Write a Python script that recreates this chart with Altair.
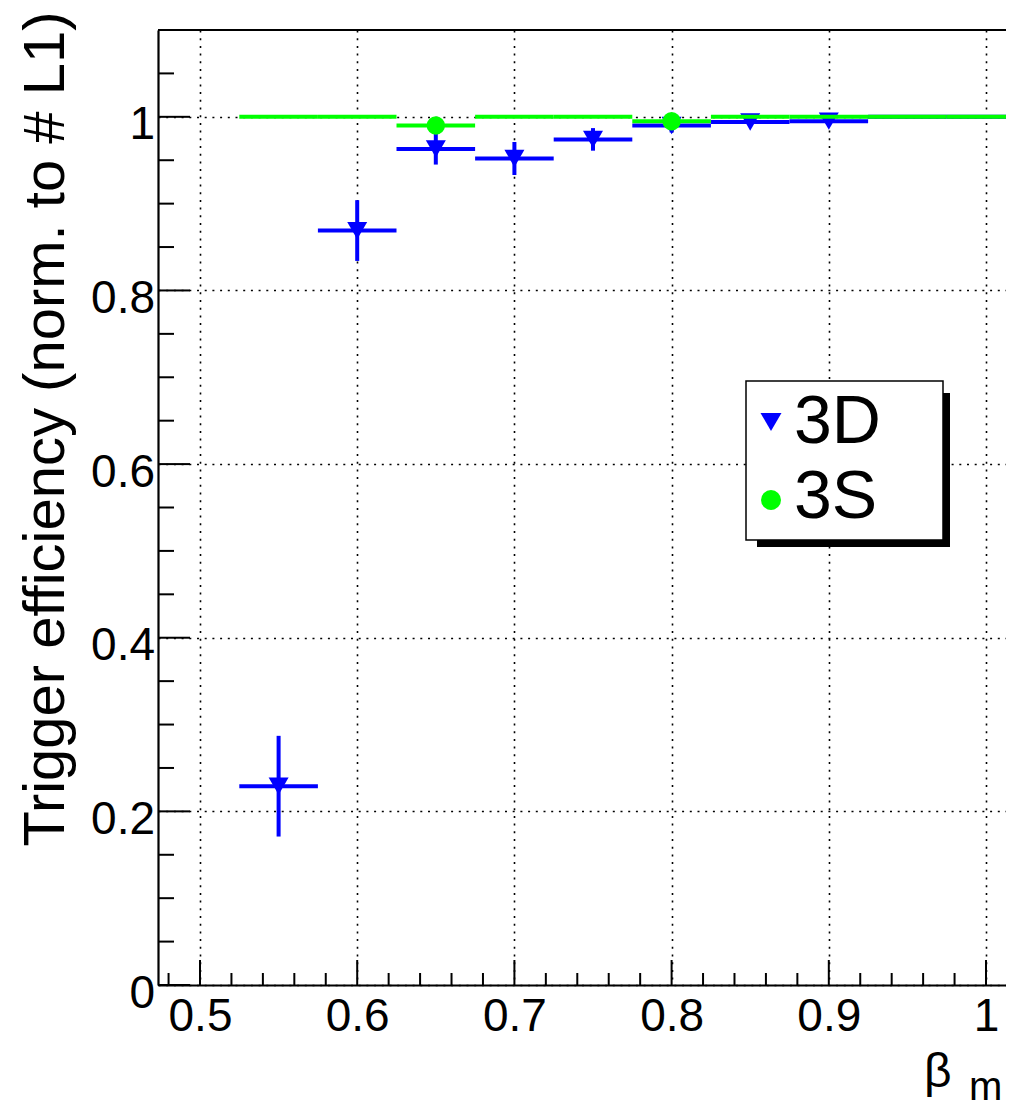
import altair as alt
import pandas as pd

# ---- data ----
bins = [0.55, 0.60, 0.65, 0.70, 0.75, 0.80, 0.85, 0.90, 0.95, 1.00]
bin_half = 0.025
eff_3d = [0.229, 0.869, 0.963, 0.952, 0.974, 0.990, 0.994, 0.995, 1.0, 1.0]
err_3d = [0.058, 0.035, 0.018, 0.019, 0.013, 0.008, 0.004, 0.004, 0.0, 0.0]
eff_3s = [1.0, 1.0, 0.990, 1.0, 1.0, 0.995, 1.0, 1.0, 1.0, 1.0]
err_3s = [0.0, 0.0, 0.005, 0.0, 0.0, 0.003, 0.0, 0.0, 0.0, 0.0]
series = ["3D", "3S"]

x_major = [0.5, 0.6, 0.7, 0.8, 0.9, 1.0]
x_minor = [0.48, 0.52, 0.54, 0.56, 0.58, 0.62, 0.64, 0.66, 0.68, 0.72, 0.74,
           0.76, 0.78, 0.82, 0.84, 0.86, 0.88, 0.92, 0.94, 0.96, 0.98]
y_major = [0, 0.2, 0.4, 0.6, 0.8, 1.0]
y_minor = [0.05, 0.1, 0.15, 0.25, 0.3, 0.35, 0.45, 0.5, 0.55, 0.65, 0.7, 0.75,
           0.85, 0.9, 0.95, 1.05]

y_title = "Trigger efficiency (norm. to # L1)"
x_title_main = "β"
x_title_sub = "m"

X_DOMAIN = [0.47328, 1.01272]
Y_DOMAIN = [0, 1.1]
W, H = 848, 955
FONT = "Liberation Sans"
BLUE = "#0000ff"
GREEN = "#00ff00"

xscale = alt.Scale(domain=X_DOMAIN, nice=False, zero=False)
yscale = alt.Scale(domain=Y_DOMAIN, nice=False, zero=False)

df3d = pd.DataFrame({"x": bins, "y": eff_3d, "err": err_3d})
df3s = pd.DataFrame({"x": bins, "y": eff_3s, "err": err_3s})

x_axis = alt.Axis(values=x_major, format="~g", grid=True, gridDash=[2, 5.7],
                  gridColor="#000000", gridWidth=1.6, ticks=False, tickSize=0,
                  domain=True, domainColor="#000000", domainWidth=2.2,
                  labelFont=FONT, labelFontSize=46, labelColor="#000000",
                  labelPadding=9, labelFlush=False, title=None)
y_axis = alt.Axis(values=y_major, format="~g", grid=True, gridDash=[2, 5.7],
                  gridColor="#000000", gridWidth=1.6, ticks=False, tickSize=0,
                  domain=True, domainColor="#000000", domainWidth=2.2,
                  labelFont=FONT, labelFontSize=46, labelColor="#000000",
                  labelPadding=3.5, labelOffset=22, labelBaseline="alphabetic",
                  labelFlush=False,
                  title=y_title, titleFont=FONT, titleFontSize=58,
                  titleFontWeight="normal", titleColor="#000000",
                  titleAngle=270, titleAlign="right", titleBaseline="alphabetic",
                  titleX=-95, titleY=-19)


def X(field):
    return alt.X(field, scale=xscale, axis=x_axis)


def Y(field):
    return alt.Y(field, scale=yscale, axis=y_axis)


def hbars(df, color):
    return alt.Chart(df).transform_calculate(
        lo=f"datum.x - {bin_half}", hi=f"datum.x + {bin_half}"
    ).mark_rule(color=color, strokeWidth=4, clip=True).encode(
        x=X("lo:Q"), x2="hi:Q", y=Y("y:Q"),
    )


def vbars(df, color):
    return alt.Chart(df).transform_filter("datum.err > 0").transform_calculate(
        ylo="datum.y - datum.err", yhi="datum.y + datum.err"
    ).mark_rule(color=color, strokeWidth=4, clip=True).encode(
        x=X("x:Q"), y=Y("ylo:Q"), y2="yhi:Q",
    )


def markers(df, color, shape, size):
    return alt.Chart(df).transform_filter("datum.y < 1").mark_point(
        shape=shape, filled=True, size=size, color=color, opacity=1, strokeWidth=0
    ).encode(x=X("x:Q"), y=Y("y:Q"))


def yticks(vals, length):
    return alt.Chart(pd.DataFrame({"v": vals})).mark_rule(
        color="#000000", strokeWidth=2
    ).encode(y=Y("v:Q"), x=alt.value(0), x2=alt.value(length))


def xticks(vals, length):
    return alt.Chart(pd.DataFrame({"v": vals})).mark_rule(
        color="#000000", strokeWidth=2
    ).encode(x=X("v:Q"), y=alt.value(H), y2=alt.value(H - length))


one = alt.Data(values=[{}])

top_frame = alt.Chart(one).mark_rule(color="#000000", strokeWidth=2.2).encode(
    x=alt.value(0), x2=alt.value(W), y=alt.value(0))

legend_shadow = alt.Chart(one).mark_rect(color="#000000").encode(
    x=alt.value(599), x2=alt.value(792), y=alt.value(363), y2=alt.value(517))
legend_box = alt.Chart(one).mark_rect(fill="#ffffff", stroke="#000000", strokeWidth=1.5).encode(
    x=alt.value(588), x2=alt.value(785), y=alt.value(351), y2=alt.value(510))
leg_sym1 = alt.Chart(one).mark_point(shape="triangle-down", filled=True, size=440,
                                     color=BLUE, opacity=1, strokeWidth=0).encode(
    x=alt.value(613), y=alt.value(392))
leg_sym2 = alt.Chart(one).mark_point(shape="circle", filled=True, size=400,
                                     color=GREEN, opacity=1, strokeWidth=0).encode(
    x=alt.value(613), y=alt.value(470))
leg_txt1 = alt.Chart(one).mark_text(align="left", baseline="alphabetic", font=FONT,
                                    fontSize=68, color="#000000").encode(
    x=alt.value(636), y=alt.value(413), text=alt.value(series[0]))
leg_txt2 = alt.Chart(one).mark_text(align="left", baseline="alphabetic", font=FONT,
                                    fontSize=68, color="#000000").encode(
    x=alt.value(636), y=alt.value(488), text=alt.value(series[1]))

xt_main = alt.Chart(one).mark_text(align="left", baseline="alphabetic", font=FONT,
                                   fontSize=48, color="#000000").encode(
    x=alt.value(766), y=alt.value(1057), text=alt.value(x_title_main))
xt_sub = alt.Chart(one).mark_text(align="left", baseline="alphabetic", font=FONT,
                                  fontSize=40, color="#000000").encode(
    x=alt.value(811), y=alt.value(1070), text=alt.value(x_title_sub))

chart = alt.layer(
    hbars(df3d, BLUE),
    vbars(df3d, BLUE),
    markers(df3d, BLUE, "triangle-down", 400),
    hbars(df3s, GREEN),
    vbars(df3s, GREEN),
    markers(df3s, GREEN, "circle", 340),
    yticks(y_major, 32),
    yticks(y_minor, 16),
    xticks(x_major, 25),
    xticks(x_minor, 12),
    top_frame,
    legend_shadow,
    legend_box,
    leg_sym1, leg_sym2, leg_txt1, leg_txt2,
    xt_main, xt_sub,
).properties(
    width=W, height=H,
    autosize=alt.AutoSizeParams(type="none"),
    padding={"left": 150, "top": 22, "right": 0, "bottom": 122},
    background="#ffffff",
).configure_view(stroke=None)

chart.save("out.html", embed_options={"renderer": "svg", "actions": False})
